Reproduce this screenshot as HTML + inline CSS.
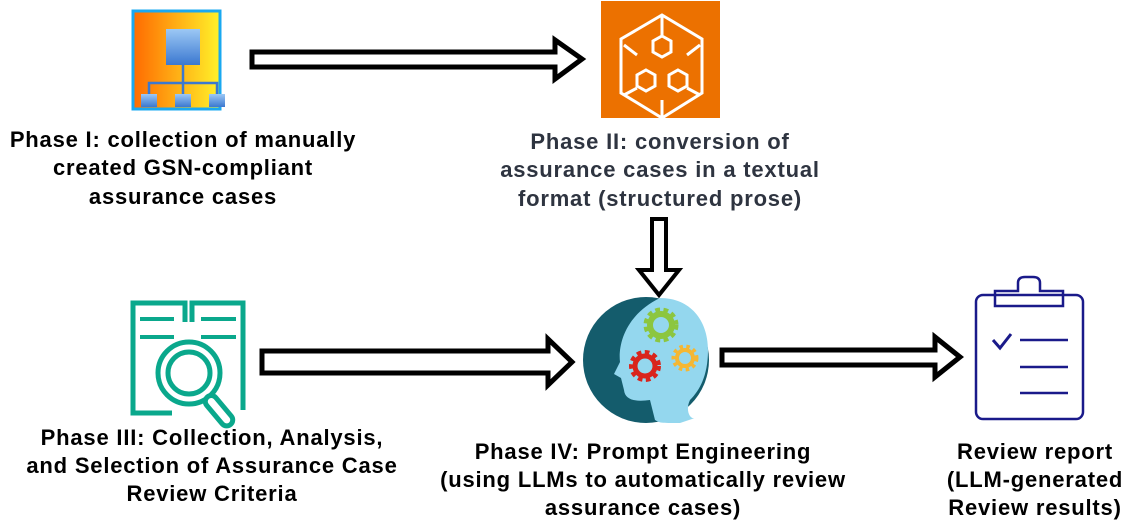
<!DOCTYPE html>
<html><head><meta charset="utf-8"><style>
html,body{margin:0;padding:0;background:#fff;}
svg{display:block}
text{font-family:"Liberation Sans",Arial,sans-serif;font-weight:bold;font-size:22px;letter-spacing:0.8px;text-anchor:middle;fill:#000}
.b{fill:#2e3440}
</style></head><body>
<svg width="1124" height="522" viewBox="0 0 1124 522">
<defs>
<linearGradient id="g1" x1="0" x2="1"><stop offset="0" stop-color="#ff6a00"/><stop offset="1" stop-color="#fff22a"/></linearGradient>
<linearGradient id="bl" x1="0" y1="0" x2="0" y2="1"><stop offset="0" stop-color="#9cc8f5"/><stop offset="1" stop-color="#3b78d0"/></linearGradient>
</defs>
<!-- Icon 1 -->
<rect x="133" y="11" width="87" height="98" fill="url(#g1)" stroke="#1aa8f0" stroke-width="3"/>
<rect x="166" y="29" width="34" height="36" fill="url(#bl)"/>
<path d="M183 65V83M149 94V83H217V94M183 83V94" stroke="#3b78d0" stroke-width="2.5" fill="none"/>
<rect x="141" y="94" width="16" height="13" fill="url(#bl)"/>
<rect x="175" y="94" width="16" height="13" fill="url(#bl)"/>
<rect x="209" y="94" width="16" height="13" fill="url(#bl)"/>
<!-- Arrow 1 -->
<path d="M252 52H555V40L582 59L555 79V67H252Z" fill="#fff" stroke="#000" stroke-width="5"/>
<!-- Orange box -->
<rect x="601" y="1" width="119" height="117" fill="#ec7100"/>
<g stroke="#fff" stroke-width="3" fill="none">
<path d="M662 15L702 39V93L662 118L621 93V39Z"/>
<path d="M662 15V35M624 45L637 55M700 45L687 55M662 100V118"/>
<path d="M662 36L671 41V52L662 57L653 52V41Z"/>
<path d="M646 70L655 75V86L646 91L637 86V75Z"/>
<path d="M678 70L687 75V86L678 91L669 86V75Z"/>
<path d="M624 95L637 88M700 95L687 88"/>
</g>
<!-- Texts -->
<text x="183" y="147">Phase I: collection of manually</text>
<text x="183" y="175">created GSN-compliant</text>
<text x="183" y="204">assurance cases</text>
<text class="b" x="660" y="149">Phase II: conversion of</text>
<text class="b" x="660" y="177">assurance cases in a textual</text>
<text class="b" x="660" y="206">format (structured prose)</text>
<!-- Down arrow -->
<path d="M652 219H666V270H679L659 295L639 270H652Z" fill="#fff" stroke="#000" stroke-width="4"/>
<!-- Head -->
<circle cx="646" cy="360" r="63" fill="#145c6c"/>
<path d="M660 298C690 298 708 320 708 350C708 375 700 390 690 400C685 410 690 420 695 418L680 423C660 423 660 423 655 420L650 400C635 402 625 400 624 390L621 378L614 374L620 362C618 345 625 315 660 298Z" fill="#94d7ee"/>
<g>
<circle cx="661" cy="325" r="13" fill="none" stroke="#8cc63f" stroke-width="9" stroke-dasharray="4 3"/>
<circle cx="661" cy="325" r="11" fill="none" stroke="#8cc63f" stroke-width="6"/>
<circle cx="645" cy="366" r="12" fill="none" stroke="#d9241c" stroke-width="8" stroke-dasharray="4 3"/>
<circle cx="645" cy="366" r="10" fill="none" stroke="#d9241c" stroke-width="5"/>
<circle cx="685" cy="358" r="10" fill="none" stroke="#f5b733" stroke-width="7" stroke-dasharray="3 3"/>
<circle cx="685" cy="358" r="8" fill="none" stroke="#f5b733" stroke-width="4"/>
</g>
<!-- Book icon -->
<g stroke="#0aa88c" fill="none" stroke-width="5">
<path d="M185 322V303H133V413H172"/>
<path d="M192 322V303H243V410"/>
<path d="M140 319H174M201 319H236M140 337H174M201 337H236" stroke-width="4"/>
<circle cx="189" cy="373" r="31"/>
<circle cx="189" cy="373" r="21"/>
</g>
<rect x="204" y="396" width="12" height="36" rx="6" transform="rotate(-40 210 400)" fill="#fff" stroke="#0aa88c" stroke-width="5"/>
<!-- Arrow 2 -->
<path d="M262 351H548V339L572 362L548 385V373H262Z" fill="#fff" stroke="#000" stroke-width="5"/>
<!-- Arrow 3 -->
<path d="M722 350H935V337L960 357L935 377V365H722Z" fill="#fff" stroke="#000" stroke-width="5"/>
<!-- Clipboard -->
<g stroke="#1a1a8a" fill="none" stroke-width="2.5">
<rect x="976" y="295" width="107" height="124" rx="7"/>
<path d="M995 306V291H1018V283Q1018 277 1025 277H1033Q1040 277 1040 283V291H1063V306Z"/>
<path d="M993 340L1000 348L1011 334" stroke-width="3"/>
<path d="M1020 340H1068M1020 367H1068M1020 393H1068"/>
</g>
<text x="212" y="445">Phase III: Collection, Analysis,</text>
<text x="212" y="473">and Selection of Assurance Case</text>
<text x="212" y="501">Review Criteria</text>
<text x="643" y="459">Phase IV: Prompt Engineering</text>
<text x="643" y="487">(using LLMs to automatically review</text>
<text x="643" y="515">assurance cases)</text>
<text x="1035" y="459">Review report</text>
<text x="1035" y="487">(LLM-generated</text>
<text x="1035" y="515">Review results)</text>
</svg>
</body></html>
